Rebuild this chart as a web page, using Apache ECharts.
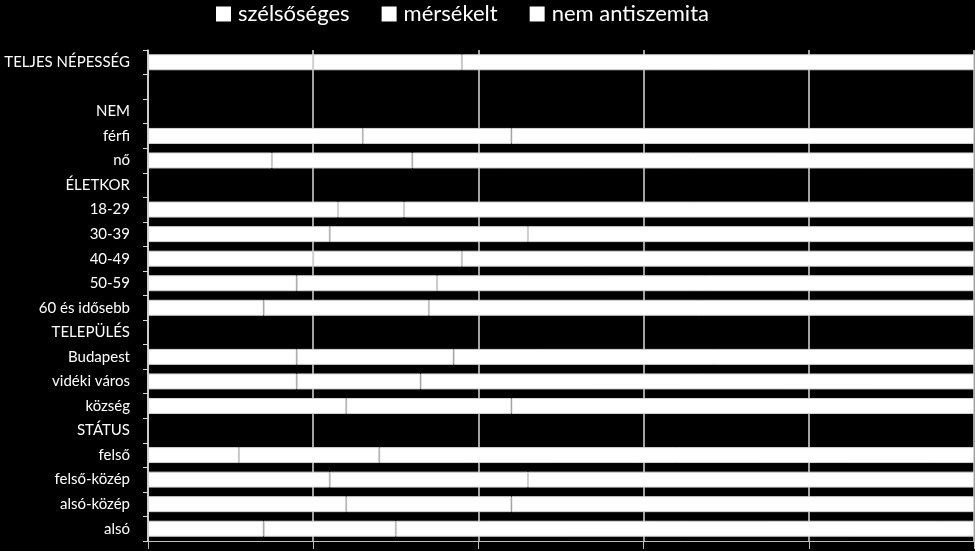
<!DOCTYPE html>
<html>
<head>
<meta charset="utf-8">
<script src="https://cdn.jsdelivr.net/npm/echarts@6/dist/echarts.min.js"></script>
<style>
  html, body { margin: 0; padding: 0; background: #000; }
  #chart { width: 975px; height: 551px; }
</style>
</head>
<body>
<div id="chart"></div>
<script>
// kategóriák (fentről lefelé), fejléc sorok üresek
var categories = ['TELJES NÉPESSÉG', '', 'NEM', 'férfi', 'nő', 'ÉLETKOR', '18-29', '30-39', '40-49',
    '50-59', '60 és idősebb', 'TELEPÜLÉS', 'Budapest', 'vidéki város', 'község', 'STÁTUS',
    'felső', 'felső-közép', 'alsó-közép', 'alsó'];
var seriesNames = ['szélsőséges', 'mérsékelt', 'nem antiszemita'];

var szelsoseges = [20, null, null, 26, 15, null, 23, 22, 20, 18, 14, null, 18, 18, 24, null, 11, 22, 24, 14];
var merskelt    = [18, null, null, 18, 17, null, 8, 24, 18, 17, 20, null, 19, 15, 20, null, 17, 24, 20, 16];
var nemAnti     = [62, null, null, 56, 68, null, 69, 54, 62, 65, 66, null, 63, 67, 56, null, 72, 54, 56, 70];

var xTicks = [0, 20, 40, 60, 80, 100];

var chart = echarts.init(document.getElementById('chart'));

var seriesData = [szelsoseges, merskelt, nemAnti];
var series = [];
for (var i = 0; i < seriesNames.length; i++) {
    series.push({
        name: seriesNames[i],
        type: 'bar',
        stack: 'total',
        barCategoryGap: '35%',
        itemStyle: {
            color: '#ffffff',
            borderColor: '#d4d4d4',
            borderWidth: 1
        },
        data: seriesData[i]
    });
}

chart.setOption({
    backgroundColor: '#000000',
    animation: false,
    legend: {
        data: seriesNames,
        top: -2,
        left: 211,
        itemWidth: 15,
        itemHeight: 15,
        itemGap: 32,
        icon: 'rect',
        itemStyle: { color: '#ffffff', borderWidth: 0 },
        textStyle: {
            color: '#ffffff',
            fontSize: 22,
            fontFamily: 'Lato',
            padding: [0, 0, 0, 2]
        }
    },
    grid: {
        left: 148,
        right: 1,
        top: 50,
        bottom: 10,
        containLabel: false
    },
    xAxis: {
        type: 'value',
        min: xTicks[0],
        max: xTicks[xTicks.length - 1],
        interval: 20,
        axisLine: { show: true, lineStyle: { color: '#bfbfbf', width: 1 } },
        axisTick: { show: true, length: 8, lineStyle: { color: '#bfbfbf' } },
        axisLabel: { show: false },
        splitLine: { show: true, lineStyle: { color: '#d9d9d9', width: 1.5 } }
    },
    yAxis: {
        type: 'category',
        inverse: true,
        data: categories,
        axisLine: { show: true, lineStyle: { color: '#d9d9d9', width: 1.5 } },
        axisTick: { show: true, length: 5, lineStyle: { color: '#d9d9d9' } },
        axisLabel: {
            color: '#ffffff',
            fontSize: 15,
            fontFamily: 'Lato',
            margin: 18
        }
    },
    series: series
});
</script>
</body>
</html>
